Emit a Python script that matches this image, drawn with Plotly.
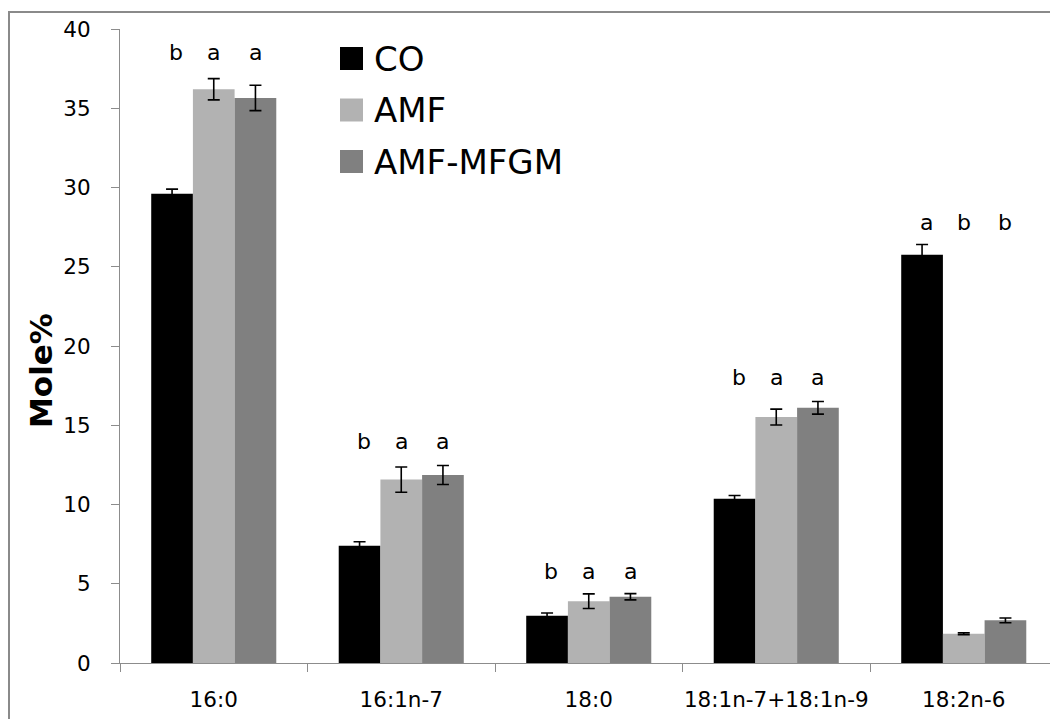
import plotly.graph_objects as go

categories = ["16:0", "16:1n-7", "18:0", "18:1n-7+18:1n-9", "18:2n-6"]
series_names = ["CO", "AMF", "AMF-MFGM"]
series_colors = ["#000000", "#b2b2b2", "#808080"]

co_vals = [29.6, 7.4, 2.98, 10.37, 25.75]
amf_vals = [36.2, 11.57, 3.9, 15.52, 1.85]
mfgm_vals = [35.65, 11.86, 4.18, 16.1, 2.69]

co_err = [0.3, 0.25, 0.17, 0.2, 0.65]
amf_err = [0.67, 0.8, 0.46, 0.5, 0.06]
mfgm_err = [0.8, 0.6, 0.2, 0.4, 0.15]

letters_co = ["b", "b", "b", "b", "a"]
letters_amf = ["a", "a", "a", "a", "b"]
letters_mfgm = ["a", "a", "a", "a", "b"]
letter_heights = [38.5, 14.0, 5.8, 18.0, 27.8]

y_ticks = [0, 5, 10, 15, 20, 25, 30, 35, 40]

FONT = "DejaVu Sans"
AXIS_COLOR = "#8c8c8c"

values = [co_vals, amf_vals, mfgm_vals]
errors = [co_err, amf_err, mfgm_err]
letters = [letters_co, letters_amf, letters_mfgm]

fig = go.Figure()
for name, color, vals, errs in zip(series_names, series_colors, values, errors):
    fig.add_trace(go.Bar(
        x=categories, y=vals, name=name,
        marker=dict(color=color, line=dict(width=0)),
        error_y=dict(type="data", array=errs, visible=True,
                     color="#000000", thickness=1.6, width=6),
        showlegend=False,
    ))

# significance letters above each bar group
bar_px = 41.7
for i, lets in enumerate(letters):
    shift = (i - 1) * bar_px + (4 if i == 0 else 0)
    for cat, let, h in zip(categories, lets, letter_heights):
        fig.add_annotation(x=cat, y=h, text=let, showarrow=False,
                           xshift=shift, yanchor="middle",
                           font=dict(family=FONT, size=22, color="#000000"))

# custom legend with large square swatches
leg_x0 = (340 - 120) / 930
leg_x1 = (363 - 120) / 930
text_x = (372 - 120) / 930
for k, (name, color) in enumerate(zip(series_names, series_colors)):
    cy_px = 58.5 + k * 51.5
    y0 = (663 - (cy_px + 11.5)) / 634
    y1 = (663 - (cy_px - 11.5)) / 634
    fig.add_shape(type="rect", xref="paper", yref="paper",
                  x0=leg_x0, x1=leg_x1, y0=y0, y1=y1,
                  fillcolor=color, line=dict(width=0))
    fig.add_annotation(xref="paper", yref="paper", x=text_x,
                       y=(663 - cy_px) / 634, text=name, showarrow=False,
                       xanchor="left", yanchor="middle",
                       font=dict(family=FONT, size=34, color="#000000"))

# y-axis title
fig.add_annotation(xref="paper", yref="paper", x=(41 - 120) / 930,
                   y=(663 - 371) / 634, text="<b>Mole%</b>", textangle=-90,
                   showarrow=False, xanchor="center", yanchor="middle",
                   font=dict(family=FONT, size=31, color="#000000"))

# outer chart frame (cropped at right and bottom like the reference)
fig.add_shape(type="rect", xref="paper", yref="paper",
              x0=(9 - 120) / 930, x1=1.05, y0=-0.2, y1=1 + 17 / 634,
              line=dict(color="#8a8a8a", width=2), fillcolor="rgba(0,0,0,0)",
              layer="below")

fig.update_layout(
    width=1050, height=719,
    margin=dict(l=120, r=0, t=29, b=56, autoexpand=False),
    barmode="group", bargap=0.333, bargroupgap=0,
    plot_bgcolor="white", paper_bgcolor="white",
    font=dict(family=FONT, size=21, color="#000000"),
)
fig.update_xaxes(
    type="category", range=[-0.5, 4.46],
    showline=True, linecolor=AXIS_COLOR, linewidth=1,
    ticks="outside", tickson="boundaries", ticklen=8, tickcolor=AXIS_COLOR,
    tickfont=dict(family=FONT, size=21.5, color="#000000"),
    tickangle=0, automargin=False,
    ticklabelstandoff=17,
    showgrid=False, zeroline=False,
)
fig.update_yaxes(
    range=[0, 40], tickvals=y_ticks,
    showline=True, linecolor=AXIS_COLOR, linewidth=1,
    ticks="outside", ticklen=8, tickcolor=AXIS_COLOR,
    tickfont=dict(family=FONT, size=21.5, color="#000000"),
    automargin=False,
    ticklabelstandoff=16,
    showgrid=False, zeroline=False,
)

fig.write_html("out.html")
